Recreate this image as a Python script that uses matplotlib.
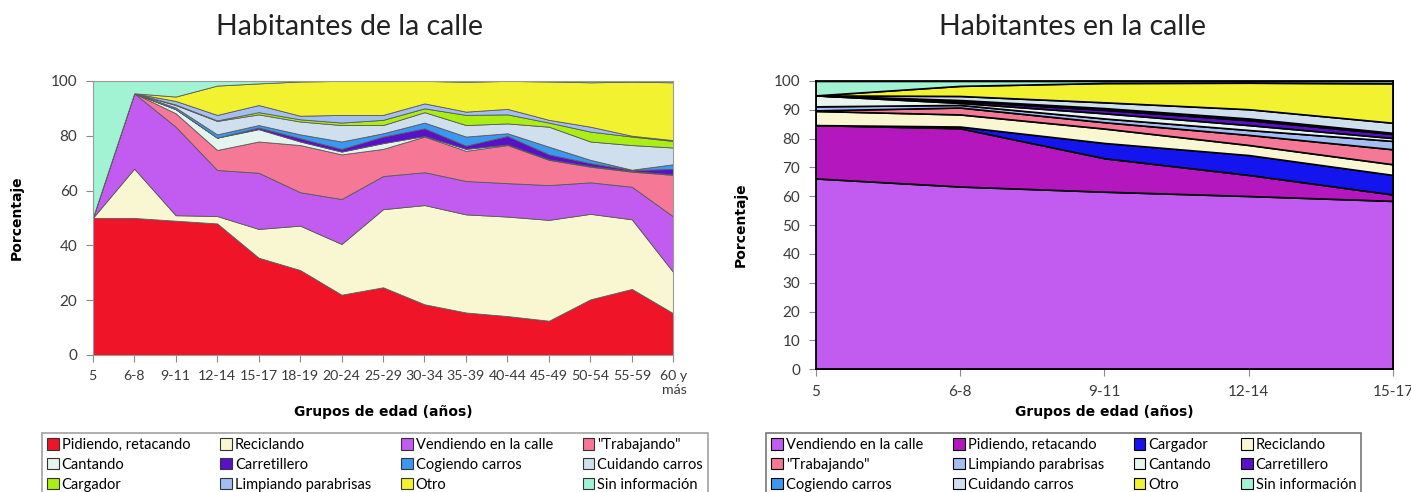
import numpy as np
import matplotlib
matplotlib.use("Agg")
import matplotlib.pyplot as plt
from matplotlib.patches import Patch

plt.rcParams['font.family'] = ['Lato', 'DejaVu Sans']

# ---- left chart: Habitantes de la calle (cumulative tops)
groups_left = ['5', '6-8', '9-11', '12-14', '15-17', '18-19', '20-24', '25-29',
               '30-34', '35-39', '40-44', '45-49', '50-54', '55-59', '60 y\nmás']
names_left = ['Pidiendo, retacando', 'Reciclando', 'Vendiendo en la calle', '"Trabajando"',
              'Cantando', 'Carretillero', 'Cogiendo carros', 'Cuidando carros',
              'Cargador', 'Limpiando parabrisas', 'Otro', 'Sin información']
top_pidiendo = [50, 50, 49, 48, 35.5, 31, 22, 24.7, 18.5, 15.5, 14.2, 12.5, 20.3, 24.1, 15.2]
top_reciclando = [50, 68, 51, 50.7, 46, 47.2, 40.5, 53.2, 54.7, 51.3, 50.5, 49.3, 51.5, 49.5, 30.2]
top_vendiendo = [50, 95.5, 83.3, 67.5, 66.5, 59.4, 56.9, 65.3, 66.7, 63.5, 62.7, 62, 63, 61.4, 50.5]
top_trabajando = [50, 95.5, 88.2, 74.8, 77.9, 76.6, 73.2, 75.2, 79.7, 74.5, 76.6, 71.2, 68.7, 66.9, 65.7]
top_cantando = [50, 95.5, 89.7, 79.3, 82.4, 77.9, 74.2, 77.3, 79.9, 75.2, 76.8, 71.4, 68.9, 67.1, 65.9]
top_carretillero = [50, 95.5, 89.7, 79.3, 83.0, 79.1, 75.2, 79.7, 82.7, 76.4, 79.9, 73.2, 70.0, 67.5, 67.9]
top_cogiendo = [50, 95.5, 90.3, 80.5, 83.9, 80.5, 77.9, 80.9, 84.8, 79.7, 80.9, 76.0, 71.2, 67.6, 69.6]
top_cuidando = [50, 95.5, 91.2, 85.4, 87.8, 85.2, 83.9, 83.9, 88.6, 83.9, 84.5, 83.3, 77.9, 76.6, 75.7]
top_cargador = [50, 95.5, 91.4, 85.6, 88.6, 86.0, 84.8, 85.8, 90.0, 87.6, 87.8, 84.8, 81.5, 79.7, 78.1]
top_limpiando = [50, 95.5, 92.7, 87.6, 91.2, 87.3, 87.6, 87.6, 91.8, 88.8, 89.8, 85.8, 83.3, 80.0, 78.4]
top_otro = [50, 95.5, 94.3, 98.3, 99.1, 99.8, 100, 100, 100, 99.7, 100, 99.8, 99.5, 99.7, 99.5]
top_sin = [100] * 15

colors_left = ['#F01428', '#F8F7D2', '#C25BEF', '#F57896', '#E4F4EE', '#5A10C8',
               '#3A98F0', '#CFDFEE', '#AAEE14', '#A2BEF2', '#F3F230', '#A2F2D4']

# ---- right chart: Habitantes en la calle
groups_right = ['5', '6-8', '9-11', '12-14', '15-17']
names_right = ['Vendiendo en la calle', 'Pidiendo, retacando', 'Cargador', 'Reciclando',
               '"Trabajando"', 'Limpiando parabrisas', 'Cantando', 'Carretillero',
               'Cogiendo carros', 'Cuidando carros', 'Otro', 'Sin información']
r_vendiendo = [66.2, 63.4, 61.6, 60.1, 58.4]
r_pidiendo = [84.7, 83.6, 73.2, 67.4, 60.6]
r_cargador = [84.7, 84.2, 78.5, 74.3, 67.4]
r_reciclando = [89.6, 88.4, 83.5, 77.8, 71.1]
r_trabajando = [89.8, 90.8, 85.7, 81.3, 76.3]
r_limpiando = [91.2, 91.7, 87.0, 83.0, 79.2]
r_cantando = [95.0, 92.4, 88.8, 84.7, 80.2]
r_carretillero = [95.0, 93.0, 90.0, 86.4, 81.6]
r_cogiendo = [95.0, 93.4, 90.6, 87.0, 82.0]
r_cuidando = [95.0, 94.8, 92.6, 90.2, 85.5]
r_otro = [95.0, 98.3, 99.3, 99.4, 99.2]
r_sin = [100] * 5

colors_right = ['#C25BEF', '#B417BE', '#1414EE', '#F8F7D2', '#F57896', '#A2BEF2',
                '#E8F4EE', '#5A10C8', '#3A98F0', '#CFDFEE', '#F3F230', '#A2F2D4']


def layers(tops):
    tops = np.array(tops, dtype=float)
    return np.diff(np.vstack([np.zeros(tops.shape[1]), tops]), axis=0)


def row_major(items, ncol=4):
    nrow = len(items) // ncol
    return [items[r * ncol + c] for c in range(ncol) for r in range(nrow)]


leg_font = {'family': 'Lato', 'size': 10.5}

fig = plt.figure(figsize=(14.11, 4.92), dpi=100)

# left
ax1 = fig.add_axes([0.0657, 0.2785, 0.4115, 0.557])
vals = layers([top_pidiendo, top_reciclando, top_vendiendo, top_trabajando, top_cantando,
               top_carretillero, top_cogiendo, top_cuidando, top_cargador, top_limpiando,
               top_otro, top_sin])
x = np.arange(len(groups_left))
ax1.stackplot(x, vals, colors=colors_left, edgecolor='#5a5a5a', linewidth=0.6)
ax1.set_xlim(0, len(groups_left) - 1)
ax1.set_ylim(0, 100)
ax1.set_xticks(x)
ax1.set_xticklabels(groups_left, multialignment='right')
ax1.set_yticks(range(0, 101, 20))
for s in ax1.spines.values():
    s.set_color('#9a9a9a')
ax1.tick_params(colors='#8a8a8a', labelcolor='#3a3a3a', labelsize=11, length=5, pad=6)
ax1.tick_params(axis='x', labelsize=10.2)
ax1.set_ylabel('Porcentaje', fontsize=10, fontweight='bold', family='DejaVu Sans')
ax1.yaxis.set_label_coords(-0.118, 0.5)
ax1.set_xlabel('Grupos de edad (años)', fontsize=10, fontweight='bold', family='DejaVu Sans')
ax1.xaxis.set_label_coords(0.5, -0.183)

h1 = [Patch(facecolor=c, edgecolor='#333333', linewidth=0.8) for c in colors_left]
leg1 = fig.legend(row_major(h1), row_major(names_left), ncol=4, loc='upper left',
                  bbox_to_anchor=(0.0298, 0.12), prop=leg_font, frameon=True,
                  fancybox=False, edgecolor='#8a8a8a', handlelength=0.8, handleheight=0.8,
                  handletextpad=0.2, columnspacing=2.05, labelspacing=0.4,
                  borderpad=0.35, borderaxespad=0)
leg1.get_frame().set_linewidth(1.2)

# right
ax2 = fig.add_axes([0.578, 0.2494, 0.4094, 0.586])
vals = layers([r_vendiendo, r_pidiendo, r_cargador, r_reciclando, r_trabajando, r_limpiando,
               r_cantando, r_carretillero, r_cogiendo, r_cuidando, r_otro, r_sin])
x = np.arange(len(groups_right))
ax2.stackplot(x, vals, colors=colors_right, edgecolor='black', linewidth=1.2)
ax2.set_xlim(0, len(groups_right) - 1)
ax2.set_ylim(0, 100)
ax2.set_xticks(x)
ax2.set_xticklabels(groups_right)
ax2.set_yticks(range(0, 101, 10))
for s in ax2.spines.values():
    s.set_color('black')
    s.set_linewidth(1.3)
ax2.tick_params(colors='#8a8a8a', labelcolor='#3a3a3a', labelsize=11, length=5, pad=6)
ax2.set_ylabel('Porcentaje', fontsize=10, fontweight='bold', family='DejaVu Sans')
ax2.yaxis.set_label_coords(-0.117, 0.5)
ax2.set_xlabel('Grupos de edad (años)', fontsize=10, fontweight='bold', family='DejaVu Sans')
ax2.xaxis.set_label_coords(0.5, -0.125)

h2 = [Patch(facecolor=c, edgecolor='black', linewidth=0.8) for c in colors_right]
leg2 = fig.legend(row_major(h2), row_major(names_right), ncol=4, loc='upper left',
                  bbox_to_anchor=(0.543, 0.12), prop=leg_font, frameon=True,
                  fancybox=False, edgecolor='#555555', handlelength=0.8, handleheight=0.8,
                  handletextpad=0.2, columnspacing=2.05, labelspacing=0.4,
                  borderpad=0.35, borderaxespad=0)
leg2.get_frame().set_linewidth(1.2)

fig.text(0.248, 0.945, 'Habitantes de la calle', ha='center', va='center', fontsize=20.5,
         color='#222222')
fig.text(0.760, 0.945, 'Habitantes en la calle', ha='center', va='center', fontsize=20.5,
         color='#222222')

fig.savefig('out.png', dpi=100)
